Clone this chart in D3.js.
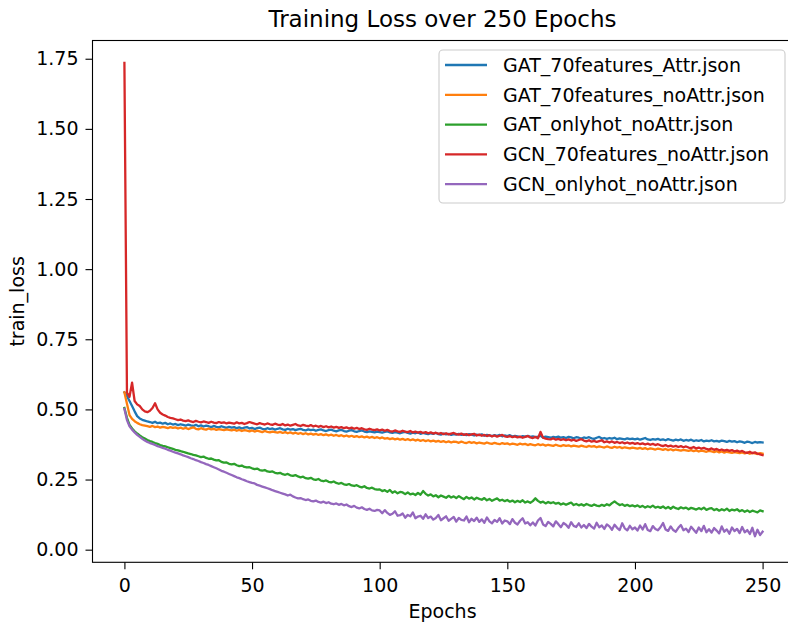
<!DOCTYPE html>
<html>
<head>
<meta charset="utf-8">
<script src="https://cdn.jsdelivr.net/npm/d3@7"></script>
<style>
  body { margin: 0; background: #fff; }
  text { font-family: "DejaVu Sans", sans-serif; fill: #000; }
</style>
</head>
<body>
<div id="chart"></div>
<script>
// size of the page
var width = 788;
var height = 627;

// series names (legend order = draw order)
var seriesNames = ["GAT_70features_Attr.json", "GAT_70features_noAttr.json", "GAT_onlyhot_noAttr.json",
                   "GCN_70features_noAttr.json", "GCN_onlyhot_noAttr.json"];
var seriesColors = ["#1f77b4", "#ff7f0e", "#2ca02c", "#d62728", "#9467bd"];

var xTicks = [0, 50, 100, 150, 200, 250];
var yTicks = [0, 0.25, 0.5, 0.75, 1.0, 1.25, 1.5, 1.75];

// train loss per epoch, epochs 0..250
var gat70Attr = [
  .561,.548,.530,.512,.493,.476,.468,.463,.460,.457,
  .455,.452,.456,.451,.453,.449,.452,.447,.450,.446,
  .448,.444,.447,.445,.442,.446,.443,.441,.445,.440,
  .443,.439,.442,.440,.437,.441,.438,.436,.440,.437,
  .434,.438,.435,.437,.433,.436,.432,.435,.437,.432,
  .434,.430,.433,.435,.431,.429,.433,.430,.432,.428,
  .431,.433,.429,.427,.431,.428,.430,.426,.429,.431,
  .427,.425,.429,.426,.428,.424,.427,.429,.425,.423,
  .426,.428,.424,.422,.425,.427,.423,.421,.424,.426,
  .422,.420,.423,.425,.421,.419,.422,.420,.418,.421,
  .419,.417,.420,.422,.418,.416,.419,.417,.415,.418,
  .420,.416,.414,.417,.415,.418,.413,.416,.414,.412,
  .415,.413,.416,.412,.410,.414,.411,.413,.409,.412,
  .410,.413,.409,.411,.408,.412,.410,.407,.410,.408,
  .411,.406,.409,.407,.405,.408,.406,.409,.404,.407,
  .405,.408,.403,.406,.404,.401,.405,.403,.406,.402,
  .404,.401,.403,.406,.400,.403,.401,.399,.402,.400,
  .403,.399,.401,.398,.402,.400,.397,.401,.399,.396,
  .400,.398,.401,.397,.395,.399,.402,.396,.398,.395,
  .398,.396,.399,.394,.397,.395,.393,.397,.394,.396,
  .393,.396,.392,.395,.398,.393,.391,.394,.392,.395,
  .391,.393,.390,.394,.391,.389,.392,.390,.393,.388,
  .391,.389,.392,.387,.390,.388,.391,.386,.389,.387,
  .390,.386,.388,.385,.389,.387,.384,.388,.385,.387,
  .383,.386,.384,.381,.385,.383,.380,.384,.382,.383,
  .382];

var gat70NoAttr = [
  .561,.520,.480,.466,.458,.452,.447,.444,.442,.440,
  .438,.441,.437,.439,.435,.438,.436,.433,.437,.434,
  .436,.432,.435,.431,.434,.430,.433,.436,.431,.429,
  .433,.430,.428,.432,.429,.431,.427,.430,.428,.426,
  .429,.427,.425,.428,.424,.427,.423,.426,.424,.422,
  .425,.421,.424,.422,.419,.423,.420,.418,.421,.419,
  .417,.420,.416,.419,.415,.418,.414,.417,.413,.416,
  .412,.415,.411,.414,.410,.413,.409,.412,.408,.411,
  .407,.410,.406,.409,.405,.408,.404,.407,.403,.406,
  .402,.405,.401,.404,.400,.403,.399,.402,.398,.401,
  .397,.400,.396,.398,.394,.397,.393,.396,.392,.395,
  .391,.394,.390,.393,.389,.392,.388,.391,.387,.390,
  .386,.389,.385,.388,.384,.387,.383,.386,.382,.385,
  .384,.381,.385,.382,.380,.384,.381,.383,.379,.382,
  .380,.378,.382,.379,.377,.381,.378,.376,.380,.377,
  .379,.375,.378,.376,.374,.378,.375,.377,.373,.376,
  .374,.372,.376,.373,.375,.371,.374,.372,.370,.374,
  .371,.369,.373,.370,.372,.368,.371,.369,.367,.371,
  .368,.366,.370,.367,.369,.365,.368,.366,.364,.368,
  .365,.363,.367,.364,.366,.362,.365,.363,.361,.364,
  .362,.360,.363,.359,.362,.358,.361,.359,.357,.360,
  .358,.356,.359,.355,.358,.354,.357,.355,.353,.356,
  .354,.352,.355,.351,.354,.350,.353,.351,.349,.352,
  .350,.348,.351,.347,.350,.346,.349,.347,.345,.348,
  .346,.344,.347,.343,.346,.342,.345,.343,.341,.344,
  .342];

var gatHotNoAttr = [
  .505,.470,.445,.432,.422,.414,.407,.401,.396,.391,
  .387,.384,.380,.377,.373,.370,.368,.365,.362,.359,
  .356,.354,.351,.349,.346,.343,.341,.338,.336,.333,
  .330,.332,.327,.324,.325,.321,.318,.319,.313,.310,
  .311,.306,.304,.306,.301,.298,.300,.295,.293,.294,
  .290,.287,.289,.284,.282,.284,.279,.277,.279,.274,
  .272,.274,.269,.267,.270,.265,.263,.266,.261,.258,
  .260,.255,.253,.256,.251,.249,.252,.246,.244,.247,
  .242,.240,.243,.238,.235,.238,.233,.231,.234,.229,
  .227,.230,.225,.222,.226,.220,.218,.221,.216,.214,
  .215,.209,.212,.206,.213,.203,.208,.201,.206,.204,
  .198,.204,.197,.200,.195,.202,.196,.209,.199,.193,
  .197,.190,.194,.187,.193,.189,.185,.192,.186,.190,
  .184,.191,.185,.180,.188,.182,.186,.179,.185,.181,
  .178,.184,.176,.181,.174,.179,.183,.175,.178,.173,
  .177,.171,.175,.169,.174,.170,.176,.168,.172,.167,
  .173,.183,.174,.168,.171,.165,.170,.166,.169,.164,
  .167,.161,.165,.160,.164,.168,.159,.163,.158,.162,
  .157,.163,.159,.156,.161,.157,.155,.160,.156,.162,
  .158,.166,.172,.165,.159,.162,.156,.160,.155,.158,
  .154,.158,.152,.156,.150,.155,.151,.157,.150,.153,
  .149,.154,.147,.152,.146,.153,.148,.145,.151,.147,
  .150,.144,.149,.146,.143,.148,.144,.150,.142,.146,
  .148,.141,.145,.139,.144,.140,.146,.138,.143,.140,
  .144,.137,.141,.135,.140,.134,.139,.136,.133,.140,
  .137];

var gcn70NoAttr = [
  1.735,.560,.545,.595,.530,.518,.512,.500,.493,.490,
  .495,.505,.522,.500,.488,.482,.478,.473,.470,.468,
  .465,.462,.464,.460,.458,.461,.457,.455,.459,.456,
  .454,.457,.455,.452,.456,.453,.451,.455,.452,.454,
  .450,.453,.451,.449,.454,.450,.452,.448,.451,.455,
  .452,.449,.447,.451,.448,.446,.450,.447,.445,.449,
  .446,.444,.448,.443,.446,.442,.445,.448,.443,.441,
  .445,.442,.440,.444,.439,.442,.438,.441,.437,.440,
  .436,.439,.435,.438,.434,.437,.433,.436,.432,.435,
  .431,.434,.430,.433,.429,.427,.431,.428,.426,.429,
  .425,.428,.424,.427,.423,.421,.425,.422,.420,.424,
  .421,.419,.423,.418,.421,.417,.420,.416,.419,.415,
  .418,.414,.417,.413,.416,.412,.415,.411,.414,.416,
  .412,.410,.414,.409,.412,.408,.411,.413,.407,.410,
  .406,.409,.405,.408,.404,.407,.403,.406,.409,.404,
  .402,.405,.401,.404,.400,.403,.399,.402,.405,.400,
  .398,.402,.397,.420,.399,.396,.394,.393,.397,.392,
  .395,.391,.394,.390,.393,.389,.392,.388,.391,.394,
  .389,.386,.390,.385,.388,.384,.387,.390,.383,.386,
  .382,.386,.381,.384,.380,.383,.379,.382,.378,.381,
  .377,.380,.376,.379,.375,.378,.374,.377,.373,.376,
  .372,.369,.373,.368,.371,.367,.370,.366,.369,.365,
  .368,.364,.362,.366,.361,.364,.360,.363,.359,.357,
  .361,.356,.359,.354,.357,.353,.356,.352,.355,.350,
  .353,.349,.352,.347,.345,.349,.344,.347,.342,.340,
  .337];

var gcnHotNoAttr = [
  .502,.462,.440,.428,.418,.409,.402,.395,.389,.384,
  .380,.377,.373,.369,.366,.363,.360,.356,.353,.349,
  .346,.343,.340,.336,.333,.330,.326,.323,.319,.316,
  .312,.309,.305,.302,.298,.294,.290,.286,.281,.278,
  .274,.270,.266,.262,.258,.255,.251,.248,.244,.241,
  .238,.236,.231,.228,.225,.222,.219,.216,.212,.209,
  .206,.203,.200,.197,.193,.196,.190,.186,.183,.184,
  .180,.177,.179,.174,.172,.175,.170,.168,.171,.166,
  .169,.164,.162,.165,.160,.163,.158,.161,.155,.152,
  .156,.150,.147,.151,.145,.142,.146,.140,.138,.142,
  .140,.130,.141,.131,.124,.128,.137,.121,.123,.129,
  .114,.124,.119,.133,.112,.118,.121,.110,.126,.113,
  .118,.107,.113,.124,.105,.112,.119,.103,.110,.117,
  .100,.113,.106,.104,.118,.098,.110,.102,.114,.099,
  .108,.096,.115,.101,.094,.106,.099,.112,.093,.104,
  .101,.091,.109,.096,.090,.103,.112,.093,.098,.087,
  .097,.086,.104,.113,.090,.084,.099,.092,.083,.101,
  .091,.080,.095,.089,.078,.098,.085,.081,.094,.079,
  .088,.077,.092,.082,.075,.096,.080,.086,.074,.090,
  .083,.071,.089,.078,.070,.094,.076,.069,.085,.073,
  .079,.068,.086,.072,.091,.070,.066,.084,.074,.069,
  .080,.095,.072,.067,.083,.070,.064,.078,.088,.069,
  .075,.063,.082,.071,.060,.079,.066,.085,.062,.073,
  .061,.077,.068,.058,.083,.064,.072,.057,.079,.066,
  .074,.059,.081,.062,.070,.056,.078,.048,.071,.052,
  .064];

var allSeries = [gat70Attr, gat70NoAttr, gatHotNoAttr, gcn70NoAttr, gcnHotNoAttr];

// plot area (right spine sits just outside the page)
var plotLeft = 92.5, plotRight = 794.5, plotTop = 40.5, plotBottom = 562.3;

var x = d3.scaleLinear().domain([-12.5, 262.5]).range([plotLeft, plotRight]);
var y = d3.scaleLinear().domain([-0.045, 1.815]).range([plotBottom, plotTop]);

var svg = d3.select("#chart")
            .append("svg")
            .attr("width", width)
            .attr("height", height);

// lines
var line = d3.line()
             .x(function(d, i) { return x(i); })
             .y(function(d) { return y(d); });

svg.append("g")
   .selectAll("path")
   .data(allSeries)
   .enter()
   .append("path")
   .attr("d", line)
   .style("fill", "none")
   .style("stroke", function(d, i) { return seriesColors[i]; })
   .style("stroke-width", 2.3)
   .style("stroke-linejoin", "round")
   .style("stroke-linecap", "square");

// axes
var xAxis = svg.append("g")
               .attr("transform", "translate(0," + plotBottom + ")")
               .call(d3.axisBottom(x).tickValues(xTicks).tickSize(7).tickPadding(9).tickFormat(d3.format("d")));
var yAxis = svg.append("g")
               .attr("transform", "translate(" + plotLeft + ",0)")
               .call(d3.axisLeft(y).tickValues(yTicks).tickSize(7).tickPadding(7).tickFormat(d3.format(".2f")));

[xAxis, yAxis].forEach(function(a) {
  a.select(".domain").remove();
  a.selectAll("line").style("stroke", "#000").style("stroke-width", 1.1);
  a.selectAll("text").style("font-size", "19px").style("font-family", "DejaVu Sans, sans-serif").style("fill", "#000");
});

// spines
svg.append("rect")
   .attr("x", plotLeft)
   .attr("y", plotTop)
   .attr("width", plotRight - plotLeft)
   .attr("height", plotBottom - plotTop)
   .style("fill", "none")
   .style("stroke", "#000")
   .style("stroke-width", 1.1);

// title and labels
svg.append("text")
   .attr("x", (plotLeft + plotRight) / 2 - 1)
   .attr("y", 27)
   .attr("text-anchor", "middle")
   .style("font-size", "23px")
   .text("Training Loss over 250 Epochs");

svg.append("text")
   .attr("x", (plotLeft + plotRight) / 2 - 1)
   .attr("y", 618)
   .attr("text-anchor", "middle")
   .style("font-size", "19px")
   .text("Epochs");

svg.append("text")
   .attr("transform", "translate(24," + (plotTop + plotBottom) / 2 + ") rotate(-90)")
   .attr("text-anchor", "middle")
   .style("font-size", "19px")
   .text("train_loss");

// legend
var legend = svg.append("g").attr("class", "legend");

legend.append("rect")
      .attr("x", 439)
      .attr("y", 50)
      .attr("width", 346)
      .attr("height", 153)
      .attr("rx", 4)
      .style("fill", "#fff")
      .style("fill-opacity", 0.8)
      .style("stroke", "#cccccc")
      .style("stroke-width", 1.1);

var items = legend.selectAll("g.item")
                  .data(seriesNames)
                  .enter()
                  .append("g")
                  .attr("class", "item")
                  .attr("transform", function(d, i) { return "translate(0," + (65 + i * 29.8) + ")"; });

items.append("line")
     .attr("x1", 445)
     .attr("x2", 487)
     .style("stroke", function(d, i) { return seriesColors[i]; })
     .style("stroke-width", 2.3);

items.append("text")
     .attr("x", 503)
     .attr("dy", "0.36em")
     .style("font-size", "19px")
     .text(function(d) { return d; });
</script>
</body>
</html>
